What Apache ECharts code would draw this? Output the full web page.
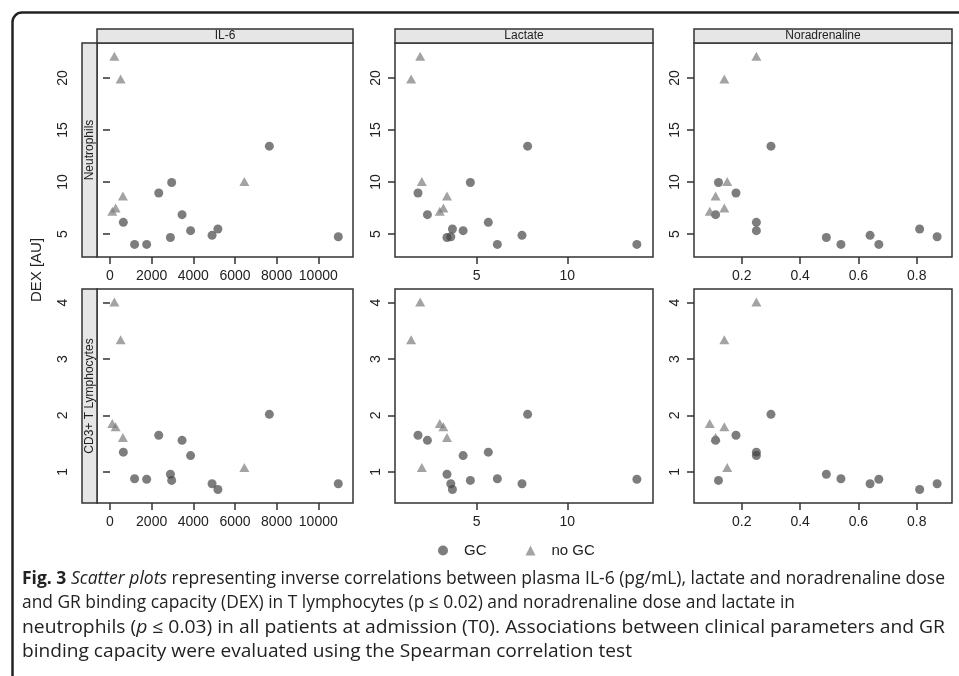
<!DOCTYPE html>
<html>
<head>
<meta charset="utf-8">
<script src="https://cdn.jsdelivr.net/npm/echarts@6/dist/echarts.min.js"></script>
<style>
  html, body { margin: 0; padding: 0; background: #fff; }
  #main { width: 959px; height: 676px; }
</style>
</head>
<body>
<div id="main"></div>
<script>
// patients with GC (circles)
var gcIL6      = [640, 1180, 1760, 2340, 2900, 2960, 3460, 3870, 4900, 5180, 7650, 10960];
var gcLactate  = [5.64, 6.14, 13.84, 1.76, 3.36, 4.65, 2.28, 4.25, 7.5, 3.66, 7.81, 3.57];
var gcNorad    = [0.25, 0.54, 0.67, 0.18, 0.49, 0.12, 0.11, 0.25, 0.64, 0.81, 0.30, 0.87];
var gcDexNeut  = [6.12, 4.0, 4.0, 8.95, 4.66, 9.95, 6.86, 5.32, 4.87, 5.48, 13.45, 4.74];
var gcDexLymph = [1.35, 0.88, 0.87, 1.65, 0.96, 0.85, 1.56, 1.29, 0.79, 0.69, 2.02, 0.79];

// patients without GC (triangles)
var nogcIL6      = [210, 510, 620, 270, 110, 6450];
var nogcLactate  = [1.88, 1.38, 3.36, 3.16, 2.96, 1.97];
var nogcNorad    = [0.25, 0.14, 0.11, 0.14, 0.09, 0.15];
var nogcDexNeut  = [22.1, 19.9, 8.66, 7.5, 7.18, 10.04];
var nogcDexLymph = [4.01, 3.34, 1.61, 1.80, 1.86, 1.08];

var colTitles = ['IL-6', 'Lactate', 'Noradrenaline'];
var rowTitles = ['Neutrophils', 'CD3+ T Lymphocytes'];

var xTicksIL6     = [0, 2000, 4000, 6000, 8000, 10000];
var xTicksLactate = [5, 10];
var xTicksNorad   = [0.2, 0.4, 0.6, 0.8];
var yTicksNeut    = [5, 10, 15, 20];
var yTicksLymph   = [1, 2, 3, 4];

var myChart = echarts.init(document.getElementById('main'));

// layout of the 2x3 panels
var colLeft = [97, 395, 694];
var colWidth = [256, 258, 258];
var rowTop = [43, 289];
var rowHeight = 214;
var stripW = 15;

var xCols = [
    {gc: gcIL6, nogc: nogcIL6, min: -624, max: 11666, ticks: xTicksIL6},
    {gc: gcLactate, nogc: nogcLactate, min: 0.49, max: 14.73, ticks: xTicksLactate},
    {gc: gcNorad, nogc: nogcNorad, min: 0.036, max: 0.921, ticks: xTicksNorad}
];
var yRows = [
    {gc: gcDexNeut, nogc: nogcDexNeut, min: 2.79, max: 23.37, ticks: yTicksNeut},
    {gc: gcDexLymph, nogc: nogcDexLymph, min: 0.45, max: 4.24, ticks: yTicksLymph}
];

function zip(a, b) {
    return a.map(function (v, i) { return [v, b[i]]; });
}
//不要千分位
function plain(v) {
    return String(v);
}

var grids = [], xAxes = [], yAxes = [], series = [], graphics = [];
var labelFont = 'Liberation Sans, Arial, sans-serif';

yRows.forEach(function (yr, r) {
    xCols.forEach(function (xc, c) {
        var idx = grids.length;
        grids.push({
            left: colLeft[c], top: rowTop[r], width: colWidth[c], height: rowHeight,
            show: true, borderColor: '#333', borderWidth: 1.5, backgroundColor: '#fff'
        });
        xAxes.push({
            gridIndex: idx, type: 'value', min: xc.min, max: xc.max,
            axisLine: {show: false},
            splitLine: {show: false},
            axisTick: {show: true, length: 7, customValues: xc.ticks, lineStyle: {color: '#333', width: 1.5}},
            axisLabel: {customValues: xc.ticks, formatter: plain, fontSize: 14, color: '#222', margin: 12, fontFamily: labelFont}
        });
        yAxes.push({
            gridIndex: idx, type: 'value', min: yr.min, max: yr.max,
            offset: c === 0 ? stripW : 0,
            axisLine: {show: false},
            splitLine: {show: false},
            axisTick: {show: true, length: 7, customValues: yr.ticks, lineStyle: {color: '#333', width: 1.5}},
            axisLabel: {customValues: yr.ticks, formatter: plain, rotate: 90, fontSize: 14, color: '#222', margin: 12, fontFamily: labelFont}
        });
        series.push({
            name: 'GC', type: 'scatter', xAxisIndex: idx, yAxisIndex: idx,
            symbol: 'circle', symbolSize: 9,
            itemStyle: {color: 'rgba(65,65,65,0.85)'},
            data: zip(xc.gc, yr.gc)
        });
        series.push({
            name: 'no GC', type: 'scatter', xAxisIndex: idx, yAxisIndex: idx,
            symbol: 'triangle', symbolSize: [10, 9],
            itemStyle: {color: 'rgba(120,120,120,0.85)'},
            data: zip(xc.nogc, yr.nogc)
        });
    });
});

// column strips (top row only)
colTitles.forEach(function (t, c) {
    graphics.push({
        type: 'rect', shape: {x: colLeft[c], y: rowTop[0] - 14, width: colWidth[c], height: 14},
        style: {fill: '#e6e6e6', stroke: '#333', lineWidth: 1.5}, z: 10
    });
    graphics.push({
        type: 'text', x: colLeft[c] + colWidth[c] / 2, y: rowTop[0] - 7, z: 11,
        style: {text: t, fontSize: 12, fontFamily: labelFont, fill: '#222', align: 'center', verticalAlign: 'middle'}
    });
});
// row strips (left column only)
rowTitles.forEach(function (t, r) {
    graphics.push({
        type: 'rect', shape: {x: colLeft[0] - stripW, y: rowTop[r], width: stripW, height: rowHeight},
        style: {fill: '#e6e6e6', stroke: '#333', lineWidth: 1.5}, z: 10
    });
    graphics.push({
        type: 'text', x: colLeft[0] - stripW / 2, y: rowTop[r] + rowHeight / 2, rotation: Math.PI / 2, z: 11,
        style: {text: t, fontSize: 12, fontFamily: labelFont, fill: '#222', align: 'center', verticalAlign: 'middle'}
    });
});

// shared y axis name
graphics.push({
    type: 'text', x: 37, y: 270, rotation: Math.PI / 2,
    style: {text: 'DEX [AU]', fontSize: 15, fontFamily: labelFont, fill: '#222', align: 'center', verticalAlign: 'middle'}
});

// figure frame: left edge, rounded corner, top edge
graphics.push({
    type: 'line', shape: {x1: 12.5, y1: 22, x2: 12.5, y2: 676},
    style: {stroke: '#222', lineWidth: 2.5}
});
graphics.push({
    type: 'line', shape: {x1: 22, y1: 12.5, x2: 959, y2: 12.5},
    style: {stroke: '#222', lineWidth: 2.5}
});
graphics.push({
    type: 'arc', shape: {cx: 22, cy: 22, r: 9.5, startAngle: Math.PI, endAngle: Math.PI * 1.5},
    style: {stroke: '#222', lineWidth: 2.5, fill: null}
});

// caption: each line is squeezed/stretched a little to end where the original line ends
var capFont = '"Open Sans", Lato, sans-serif';
var capSize = 17.5;
var capLeft = 22;
var capLines = [
    {end: 945, text: '{b|Fig. 3} {i|Scatter plots} representing inverse correlations between plasma IL-6 (pg/mL), lactate and noradrenaline dose'},
    {end: 795, text: 'and GR binding capacity (DEX) in T lymphocytes (p ≤ 0.02) and noradrenaline dose and lactate in'},
    {end: 945, text: 'neutrophils ({i|p} ≤ 0.03) in all patients at admission (T0). Associations between clinical parameters and GR'},
    {end: 632, text: 'binding capacity were evaluated using the Spearman correlation test'}
];
var capRich = {
    b: {fontSize: capSize, fontWeight: 'bold', fontFamily: capFont, fill: '#222'},
    i: {fontSize: capSize, fontStyle: 'italic', fontFamily: capFont, fill: '#222'}
};
var measureCtx = document.createElement('canvas').getContext('2d');
function richWidth(s) {
    var re = /\{(\w)\|([^}]*)\}|([^{]+)/g, m, total = 0;
    while ((m = re.exec(s))) {
        var pre = m[1] === 'b' ? 'bold ' : (m[1] === 'i' ? 'italic ' : '');
        measureCtx.font = pre + capSize + 'px ' + capFont;
        total += measureCtx.measureText(m[1] ? m[2] : m[3]).width;
    }
    return total;
}

capLines.forEach(function (line, i) {
    var w = richWidth(line.text);
    graphics.push({
        type: 'text', x: capLeft, y: 579 + i * 24.5,
        scaleX: (line.end - capLeft) / w,
        style: {text: line.text, fontSize: capSize, fontFamily: capFont, fill: '#222', verticalAlign: 'middle', rich: capRich}
    });
});

var option = {
    animation: false,
    backgroundColor: '#fff',
    grid: grids,
    xAxis: xAxes,
    yAxis: yAxes,
    series: series,
    legend: {
        data: ['GC', 'no GC'],
        left: 433, top: 538,
        itemWidth: 10, itemHeight: 10, itemGap: 39,
        textStyle: {fontSize: 15, color: '#222', fontFamily: labelFont, padding: [0, 0, 0, 11]}
    },
    graphic: graphics
};

myChart.setOption(option);
</script>
</body>
</html>
